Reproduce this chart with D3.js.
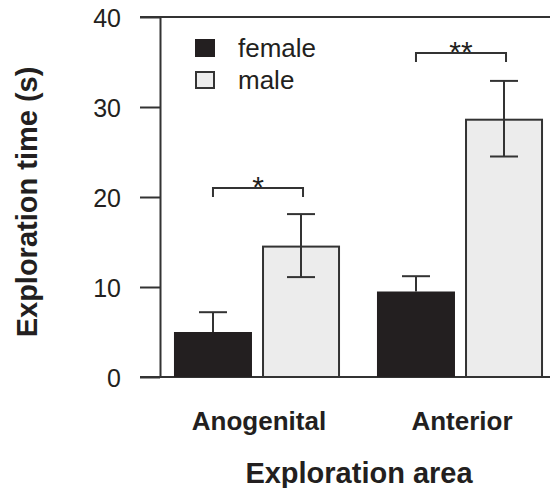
<!DOCTYPE html>
<html>
<head>
<meta charset="utf-8">
<script src="https://cdn.jsdelivr.net/npm/d3@7"></script>
<style>
  html, body { margin: 0; padding: 0; background: #fff; }
  svg { display: block; font-family: "Liberation Sans", Arial, sans-serif; }
</style>
</head>
<body>
<svg id="chart" width="550" height="488"></svg>
<script>
// ---- data ----
const areas = ["Anogenital", "Anterior"];
const sexes = ["female", "male"];
const femaleMean = [5.0, 9.5];
const femaleSE = [2.2, 1.7];
const maleMean = [14.6, 28.7];
const maleSE = [3.5, 4.2];
const yTicks = [0, 10, 20, 30, 40];
const sigLabels = ["*", "**"];
const sigLevels = [21, 36];

const ink = "#333333";
const fills = { female: "#231f20", male: "#ececec" };

const svg = d3.select("#chart");

const y = d3.scaleLinear().domain([0, 40]).range([377, 17]);
const x0 = d3.scaleBand().domain(areas).range([155.5, 561.5]).paddingInner(0.182).paddingOuter(0.091);
const x1 = d3.scaleBand().domain(sexes).range([0, x0.bandwidth()]).paddingInner(0.114).paddingOuter(0);

const rows = [];
areas.forEach((a, i) => {
  rows.push({ area: a, sex: "female", mean: femaleMean[i], se: femaleSE[i] });
  rows.push({ area: a, sex: "male", mean: maleMean[i], se: maleSE[i] });
});
const cx = d => x0(d.area) + x1(d.sex) + x1.bandwidth() / 2;

// y axis
const axisX = 160;
const yAxis = d3.axisLeft(y).tickValues(yTicks).tickSize(20).tickSizeOuter(0).tickPadding(19);
const gy = svg.append("g").attr("transform", `translate(${axisX},0)`).call(yAxis);
gy.select(".domain").attr("stroke", ink).attr("stroke-width", 2);
gy.selectAll(".tick line").attr("stroke", ink).attr("stroke-width", 2);
gy.selectAll(".tick text").attr("fill", "#231f20").attr("font-size", 25)
  .attr("font-family", "'Liberation Sans', Arial, sans-serif").attr("dy", "0.36em");

// top and bottom horizontal lines
svg.append("g").selectAll("line").data([0, 40]).join("line")
  .attr("x1", axisX - 20).attr("x2", 550)
  .attr("y1", d => y(d)).attr("y2", d => y(d))
  .attr("stroke", ink).attr("stroke-width", 2);

// bars
svg.append("g").selectAll("rect").data(rows).join("rect")
  .attr("x", d => x0(d.area) + x1(d.sex) + (d.sex === "male" ? 1 : 0))
  .attr("y", d => y(d.mean) + (d.sex === "male" ? 1 : 0))
  .attr("width", d => x1.bandwidth() - (d.sex === "male" ? 2 : 0))
  .attr("height", d => y(0) - y(d.mean) - (d.sex === "male" ? 1 : 0))
  .attr("fill", d => fills[d.sex])
  .attr("stroke", d => d.sex === "male" ? ink : "none")
  .attr("stroke-width", 2);

// error bars
const capW = 28;
const eg = svg.append("g").attr("stroke", ink).attr("stroke-width", 2);
rows.forEach(d => {
  const lo = d.sex === "male" ? d.mean - d.se : d.mean;
  const hi = d.mean + d.se;
  eg.append("line").attr("x1", cx(d)).attr("x2", cx(d)).attr("y1", y(lo)).attr("y2", y(hi));
  eg.append("line").attr("x1", cx(d) - capW / 2).attr("x2", cx(d) + capW / 2).attr("y1", y(hi)).attr("y2", y(hi));
  if (d.sex === "male") {
    eg.append("line").attr("x1", cx(d) - capW / 2).attr("x2", cx(d) + capW / 2).attr("y1", y(lo)).attr("y2", y(lo));
  }
});

// significance brackets
areas.forEach((a, i) => {
  const xa = cx({ area: a, sex: "female" });
  const xb = cx({ area: a, sex: "male" }) + 2;
  const top = y(sigLevels[i]);
  const leg = y(sigLevels[i] - 1);
  svg.append("path")
    .attr("d", `M${xa},${leg}V${top}H${xb}V${leg}`)
    .attr("fill", "none").attr("stroke", ink).attr("stroke-width", 2);
  svg.append("text")
    .attr("x", (xa + xb) / 2).attr("y", leg)
    .attr("text-anchor", "middle").attr("font-size", 30).attr("fill", "#231f20")
    .text(sigLabels[i]);
});

// legend
const lg = svg.append("g");
sexes.forEach((s, i) => {
  const ly = 40 + i * 32;
  lg.append("rect").attr("x", 196).attr("y", ly).attr("width", 18).attr("height", 16)
    .attr("fill", fills[s]).attr("stroke", s === "male" ? ink : fills[s]).attr("stroke-width", 2);
  lg.append("text").attr("x", 238).attr("y", ly + 17).attr("font-size", 26).attr("fill", "#231f20").text(s);
});

// category labels
svg.append("g").selectAll("text").data(areas).join("text")
  .attr("x", d => x0(d) + x0.bandwidth() / 2 + 2)
  .attr("y", 430)
  .attr("text-anchor", "middle").attr("font-size", 26).attr("font-weight", "bold").attr("fill", "#231f20")
  .text(d => d);

// axis titles
svg.append("text").attr("x", 359).attr("y", 483).attr("text-anchor", "middle")
  .attr("font-size", 29).attr("font-weight", "bold").attr("fill", "#231f20").text("Exploration area");
svg.append("text").attr("transform", "translate(37,202) rotate(-90)").attr("text-anchor", "middle")
  .attr("font-size", 29).attr("font-weight", "bold").attr("fill", "#231f20").text("Exploration time (s)");
</script>
</body>
</html>
